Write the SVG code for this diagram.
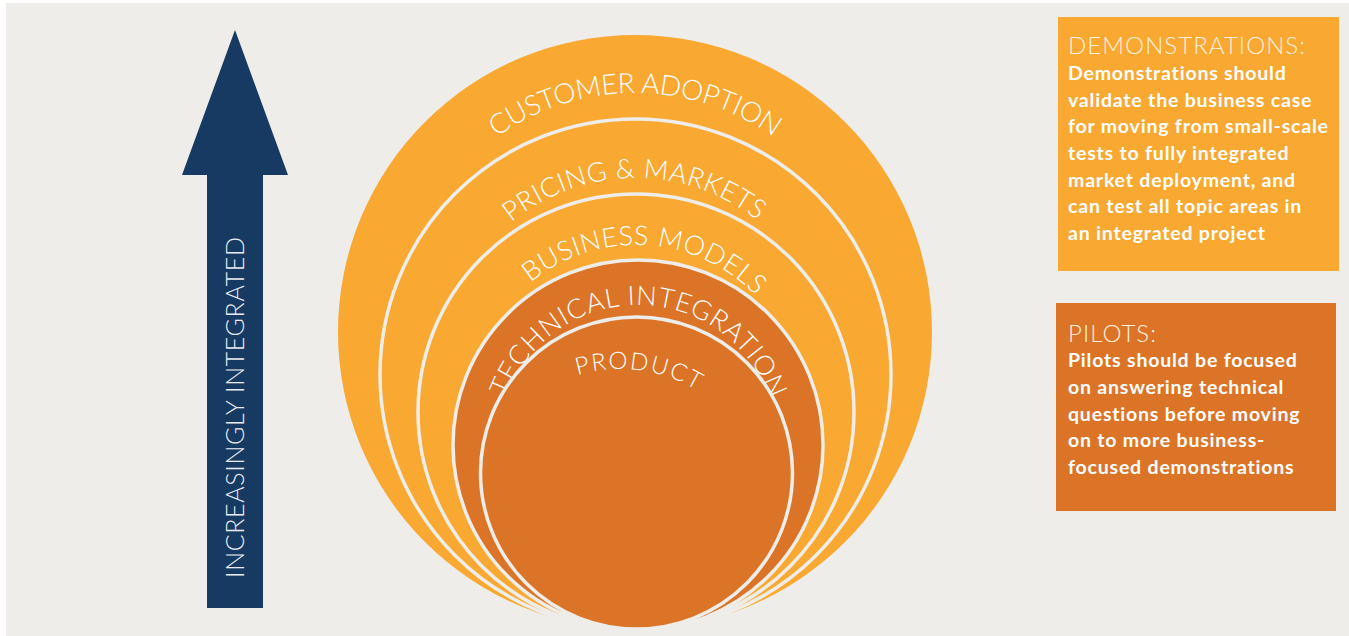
<svg xmlns="http://www.w3.org/2000/svg" width="1349" height="636" viewBox="0 0 1349 636">
<style>
.lbl{font-family:Lato,"Liberation Sans",sans-serif;font-weight:300;fill:#FFFFFF;}
.ttl{font-family:Lato,"Liberation Sans",sans-serif;font-weight:300;fill:#FDF1DF;font-size:24px;}
.body{font-family:Lato,"Liberation Sans",sans-serif;font-weight:700;fill:#FFFFFF;font-size:19.5px;letter-spacing:0.8px;}
.ring{stroke:#EEEDE9;stroke-width:3.5;}
.lt{fill:#F9A831;}
.dk{fill:#DC7427;}
</style>
<defs>
<path id="pCust" d="M395.5,332.5 A239.5,239.5 0 0 1 874.5,332.5"/>
<path id="pPric" d="M439,374.5 A196.5,196.5 0 0 1 832,374.5"/>
<path id="pBus" d="M469,412 A167,167 0 0 1 803,412"/>
<path id="pTech" d="M498,445 A140,140 0 0 1 778,445"/>
<path id="pProd" d="M470,519 A150,150 0 0 1 770,519"/>
</defs>
<rect x="0" y="0" width="1349" height="636" fill="#FFFFFF"/>
<rect x="6" y="3" width="1343" height="633" fill="#EEEDE9"/>

<g id="arrow">
<polygon points="235,30 288,175 263,175 263,608 207,608 207,175 182,175" fill="#173A63"/>
<text class="lbl" font-size="25" transform="translate(244,407.5) rotate(-90)" text-anchor="middle" textLength="341" lengthAdjust="spacing" style="fill:#EAEBF0">INCREASINGLY INTEGRATED</text>
</g>

<g id="customer-adoption">
<circle class="lt" cx="635" cy="332" r="297"/>
<text class="lbl" font-size="28" letter-spacing="-0.4"><textPath href="#pCust" startOffset="376" text-anchor="middle">CUSTOMER ADOPTION</textPath></text>
</g>
<g id="pricing-markets">
<circle class="lt ring" cx="635.5" cy="374.5" r="255.5"/>
<text class="lbl" font-size="27" letter-spacing="0.4"><textPath href="#pPric" startOffset="307" text-anchor="middle">PRICING &amp; MARKETS</textPath></text>
</g>
<g id="business-models">
<circle class="lt ring" cx="636" cy="412" r="218"/>
<text class="lbl" font-size="27" letter-spacing="0.5"><textPath href="#pBus" startOffset="272" text-anchor="middle">BUSINESS MODELS</textPath></text>
</g>
<g id="technical-integration">
<circle class="dk ring" cx="638" cy="445" r="185"/>
<text class="lbl" font-size="27" letter-spacing="0.8"><textPath href="#pTech" startOffset="221" text-anchor="middle">TECHNICAL INTEGRATION</textPath></text>
</g>
<g id="product">
<circle class="dk ring" cx="636.5" cy="473" r="156"/>
<text class="lbl" font-size="24" letter-spacing="1.8"><textPath href="#pProd" startOffset="255" text-anchor="middle">PRODUCT</textPath></text>
</g>

<g id="demonstrations">
<rect x="1058" y="17" width="281" height="254" fill="#F9A831"/>
<text class="ttl" x="1068" y="54" textLength="237" lengthAdjust="spacing">DEMONSTRATIONS:</text>
<text class="body" x="1068" y="80">Demonstrations should</text>
<text class="body" x="1068" y="106.7">validate the business case</text>
<text class="body" x="1068" y="133.3">for moving from small-scale</text>
<text class="body" x="1068" y="160">tests to fully integrated</text>
<text class="body" x="1068" y="186.7">market deployment, and</text>
<text class="body" x="1068" y="213.3">can test all topic areas in</text>
<text class="body" x="1068" y="240">an integrated project</text>
</g>

<g id="pilots">
<rect x="1056" y="303" width="280" height="208" fill="#DC7427"/>
<text class="ttl" x="1068" y="342" textLength="88" lengthAdjust="spacing">PILOTS:</text>
<text class="body" x="1068" y="367.3">Pilots should be focused</text>
<text class="body" x="1068" y="394">on answering technical</text>
<text class="body" x="1068" y="420.7">questions before moving</text>
<text class="body" x="1068" y="447.3">on to more business-</text>
<text class="body" x="1068" y="474">focused demonstrations</text>
</g>
<g id="connectors"/>
</svg>
